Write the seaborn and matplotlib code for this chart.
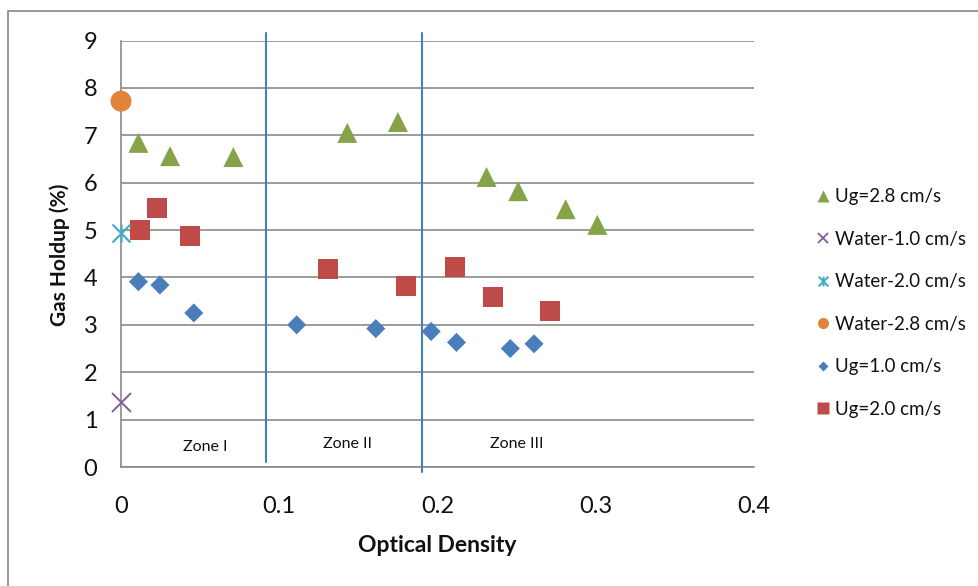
import numpy as np
import pandas as pd
import matplotlib
matplotlib.use("Agg")
import matplotlib.pyplot as plt
from matplotlib.path import Path
from matplotlib.lines import Line2D
from matplotlib.patches import Rectangle
import seaborn as sns

# Measured gas holdup (%) against optical density
od_ug28 = [0.011, 0.031, 0.071, 0.143, 0.175, 0.231, 0.251, 0.281, 0.301]
gh_ug28 = [6.84, 6.56, 6.54, 7.05, 7.28, 6.12, 5.82, 5.44, 5.11]

od_ug20 = [0.012, 0.0228, 0.0435, 0.1306, 0.180, 0.211, 0.235, 0.271]
gh_ug20 = [5.00, 5.47, 4.88, 4.17, 3.83, 4.22, 3.58, 3.30]

od_ug10 = [0.011, 0.0246, 0.046, 0.111, 0.161, 0.196, 0.212, 0.246, 0.261]
gh_ug10 = [3.91, 3.84, 3.25, 3.00, 2.92, 2.86, 2.63, 2.50, 2.60]

od_water10, gh_water10 = [0.0], [1.38]
od_water20, gh_water20 = [0.0], [4.94]
od_water28, gh_water28 = [0.0], [7.72]

# Zone boundaries
zone_bounds = [0.0915, 0.190]
zone_line_y = [(0.10, 9.16), (-0.10, 9.16)]
zone_names = ["Zone I", "Zone II", "Zone III"]
zone_label_x = [0.053, 0.143, 0.250]
zone_label_y = [0.42, 0.49, 0.49]

x_ticks = [0, 0.1, 0.2, 0.3, 0.4]
x_tick_labels = ["0", "0.1", "0.2", "0.3", "0.4"]
y_ticks = list(range(0, 10))

C_GREEN = "#87A34A"
C_RED = "#BE4B48"
C_BLUE = "#4A7EBB"
C_PURPLE = "#7D5FA0"
C_TEAL = "#4AACC6"
C_ORANGE = "#E2823B"
C_GRID = "#8A8A8A"

sns.set_style("white")
plt.rcParams["font.family"] = ["Lato", "DejaVu Sans"]

star = Path([(-1, -1), (1, 1), (-1, 1), (1, -1), (0, -1), (0, 1)],
            [Path.MOVETO, Path.LINETO, Path.MOVETO, Path.LINETO, Path.MOVETO, Path.LINETO])

fig = plt.figure(figsize=(9.79, 5.86), dpi=100)
ax = fig.add_axes([121 / 979, 1 - 467 / 586, 633 / 979, 426.5 / 586])

def frame(x, y):
    return pd.DataFrame({"od": x, "gh": y})

px = 0.72  # points per pixel at 100 dpi
sns.scatterplot(data=frame(od_ug10, gh_ug10), x="od", y="gh", ax=ax, marker="D",
                s=(13.5 * px) ** 2, color=C_BLUE, edgecolor="none", zorder=4, clip_on=False)
sns.scatterplot(data=frame(od_ug20, gh_ug20), x="od", y="gh", ax=ax, marker="s",
                s=(20 * px) ** 2, color=C_RED, edgecolor="none", zorder=4, clip_on=False)
sns.scatterplot(data=frame(od_ug28, gh_ug28), x="od", y="gh", ax=ax, marker="^",
                s=(20 * px) ** 2, color=C_GREEN, edgecolor="none", zorder=4, clip_on=False)
sns.scatterplot(data=frame(od_water10, gh_water10), x="od", y="gh", ax=ax, marker="x",
                s=(19 * px) ** 2, color=C_PURPLE, linewidth=1.4, zorder=5, clip_on=False)
ax.scatter(od_water20, gh_water20, marker=star, s=(18 * px) ** 2, color=C_TEAL,
           linewidths=1.6, zorder=5, clip_on=False)
sns.scatterplot(data=frame(od_water28, gh_water28), x="od", y="gh", ax=ax, marker="o",
                s=(21 * px) ** 2, color=C_ORANGE, edgecolor="none", zorder=5, clip_on=False)

# Zone separators
for xb, (y0, y1) in zip(zone_bounds, zone_line_y):
    ax.plot([xb, xb], [y0, y1], color=C_BLUE, lw=1.5, zorder=3, clip_on=False)
for name, zx, zy in zip(zone_names, zone_label_x, zone_label_y):
    ax.text(zx, zy, name, ha="center", va="center", fontsize=11.5, color="#111111")

ax.set_xlim(0, 0.4)
ax.set_ylim(0, 9)
ax.set_xticks(x_ticks)
ax.set_xticklabels(x_tick_labels)
ax.set_yticks(y_ticks)
ax.yaxis.grid(True, color=C_GRID, lw=1.2)
ax.xaxis.grid(False)
ax.set_axisbelow(True)
for side in ["top", "right"]:
    ax.spines[side].set_visible(False)
for side in ["left", "bottom"]:
    ax.spines[side].set_color(C_GRID)
    ax.spines[side].set_linewidth(1.2)
ax.tick_params(axis="both", length=0, labelsize=17, colors="#111111")
ax.tick_params(axis="x", pad=21)
ax.tick_params(axis="y", pad=17)

ax.set_xlabel("Optical Density", fontsize=16.5, fontweight="bold", color="#111111")
ax.set_ylabel("Gas Holdup (%)", fontsize=15, fontweight="bold", color="#111111")
ax.xaxis.set_label_coords(0.5, (467 - 545) / 426.5)
ax.xaxis.label.set_va("center")
ax.yaxis.set_label_coords((60 - 121) / 633, (467 - 255) / 426.5)
ax.yaxis.label.set_va("center")

handles = [
    Line2D([], [], ls="none", marker="^", ms=8, color=C_GREEN, mec="none"),
    Line2D([], [], ls="none", marker="x", ms=7, color=C_PURPLE, mew=1.3),
    Line2D([], [], ls="none", marker=star, ms=7, color=C_TEAL, mew=1.5),
    Line2D([], [], ls="none", marker="o", ms=8, color=C_ORANGE, mec="none"),
    Line2D([], [], ls="none", marker="D", ms=5.5, color=C_BLUE, mec="none"),
    Line2D([], [], ls="none", marker="s", ms=8, color=C_RED, mec="none"),
]
labels = ["Ug=2.8 cm/s", "Water-1.0 cm/s", "Water-2.0 cm/s", "Water-2.8 cm/s",
          "Ug=1.0 cm/s", "Ug=2.0 cm/s"]
fig.legend(handles, labels, loc="upper left", bbox_to_anchor=(806 / 979, 1 - 179 / 586),
           frameon=False, fontsize=13.5, labelspacing=1.36, handlelength=0.8,
           handletextpad=0.25, borderpad=0, labelcolor="#111111")

# Chart border
fig.patches.append(Rectangle((8 / 979, -0.5), 2.0, 1.5 - 11 / 586, transform=fig.transFigure,
                             fill=False, edgecolor="#888888", lw=1.2, clip_on=False))

fig.savefig("out.png", dpi=100)
